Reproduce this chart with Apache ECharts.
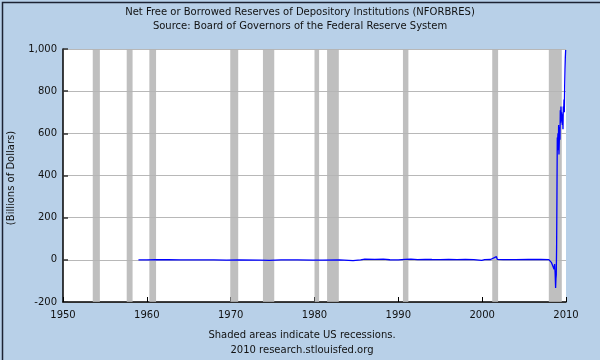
<!DOCTYPE html>
<html>
<head>
<meta charset="utf-8">
<script src="https://cdn.jsdelivr.net/npm/echarts@6/dist/echarts.min.js"></script>
<style>
html,body{margin:0;padding:0;background:#b8d0e8;}
#c{width:600px;height:360px;}
</style>
</head>
<body>
<div id="c"></div>
<script>
// Dates as decimal years, values in billions of dollars
const years = [1959.0,1960.0,1961.0,1962.5,1964.0,1966.0,1968.0,1969.5,1971.0,1973.5,1974.6,1976.0,1978.0,1979.8,1981.0,1983.0,1984.6,1985.5,1986.0,1987.2,1988.2,1989.0,1990.0,1990.8,1991.5,1992.3,1993.2,1994.0,1995.0,1996.0,1997.0,1998.0,1999.0,1999.95,2000.3,2001.0,2001.7,2001.8,2002.5,2004.0,2005.5,2007.0,2007.95,2008.05,2008.15,2008.25,2008.35,2008.45,2008.52,2008.58,2008.64,2008.7,2008.76,2008.8,2008.84,2008.88,2008.92,2008.96,2009.0,2009.04,2009.08,2009.12,2009.16,2009.2,2009.24,2009.28,2009.32,2009.36,2009.4,2009.44,2009.48,2009.52,2009.56,2009.6,2009.64,2009.68,2009.72,2009.76,2009.8,2009.84,2009.88,2009.92,2009.96];
const values = [-0.4,-0.2,0.5,0.3,0.1,-0.3,-0.1,-1.0,-0.3,-1.5,-2.5,0.2,-0.6,-1.5,-1.2,-0.4,-4.0,-0.5,3,2,3,0.5,0.2,2,3,1,2,1.5,1,2,1,1.5,1,-3,1,1.5,15,2,1.4,1.2,1.5,1.5,1,-1,-5,-12,-20,-32,-28,-45,-20,-60,-133,-90,-70,60,300,580,560,600,520,640,500,560,630,570,710,650,727,660,700,665,640,690,620,727,700,760,700,822,900,960,995];
const recessionStart = [1953.55,1957.6,1960.3,1969.95,1973.85,1980.0,1981.5,1990.55,2001.2,2007.95];
const recessionEnd   = [1954.4,1958.3,1961.1,1970.9,1975.2,1980.55,1982.9,1991.2,2001.9,2009.5];
const yTicks = [-200,0,200,400,600,800,1000];

const chart = echarts.init(document.getElementById('c'));
const fnt = 'DejaVu Sans, Verdana, sans-serif';
const bands = recessionStart.map((s,i)=>[{xAxis:s},{xAxis:recessionEnd[i]}]);
const fmtNum = v => { const s = Math.abs(v).toString().replace(/\B(?=(\d{3})+(?!\d))/g, ','); return (v<0?'-':'')+s; };

chart.setOption({
  backgroundColor:'#b8d0e8',
  animation:false,
  grid:{left:63,right:34,top:49,bottom:58,show:true,backgroundColor:'#ffffff',borderWidth:0},
  xAxis:{type:'value',min:1950,max:2010,interval:10,
    axisLine:{show:true,onZero:false,lineStyle:{color:'#000',width:1.5}},
    axisTick:{show:true,inside:true,length:5,lineStyle:{color:'#000'}},
    axisLabel:{color:'#111',fontFamily:fnt,fontSize:10,margin:8,formatter:v=>String(v)},
    splitLine:{show:false}},
  yAxis:{type:'value',min:-200,max:1000,interval:200,
    axisLine:{show:true,onZero:false,lineStyle:{color:'#000',width:1.5}},
    axisTick:{show:true,inside:true,length:5,lineStyle:{color:'#333',width:1.5}},
    axisLabel:{color:'#111',fontFamily:fnt,fontSize:10,margin:6,formatter:v=>fmtNum(v)},
    splitLine:{show:true,lineStyle:{color:'#b8b8b8',width:1}}},
  series:[
    {type:'line',data:[],silent:true,
      markArea:{silent:true,itemStyle:{color:'rgba(180,180,180,0.85)'},data:bands}},
    {type:'line',data:years.map((y,i)=>[y,values[i]]),showSymbol:false,symbol:'none',
      lineStyle:{color:'#0000ff',width:1.3},z:5}
  ],
  graphic:[
    {type:'rect',left:0,top:0,shape:{width:599,height:359},style:{fill:'none',stroke:'#1c2233',lineWidth:1.5},z:100},
    {type:'text',x:300,y:12,style:{text:'Net Free or Borrowed Reserves of Depository Institutions (NFORBRES)',font:'10px '+fnt,fill:'#111',textAlign:'center',textVerticalAlign:'middle'}},
    {type:'text',x:300,y:26,style:{text:'Source: Board of Governors of the Federal Reserve System',font:'10px '+fnt,fill:'#111',textAlign:'center',textVerticalAlign:'middle'}},
    {type:'text',x:302,y:335,style:{text:'Shaded areas indicate US recessions.',font:'10px '+fnt,fill:'#111',textAlign:'center',textVerticalAlign:'middle'}},
    {type:'text',x:302,y:350,style:{text:'2010 research.stlouisfed.org',font:'10px '+fnt,fill:'#111',textAlign:'center',textVerticalAlign:'middle'}},
    {type:'text',x:11,y:178,rotation:Math.PI/2,style:{text:'(Billions of Dollars)',font:'10px '+fnt,fill:'#111',textAlign:'center',textVerticalAlign:'middle'}}
  ]
});
</script>
</body>
</html>
